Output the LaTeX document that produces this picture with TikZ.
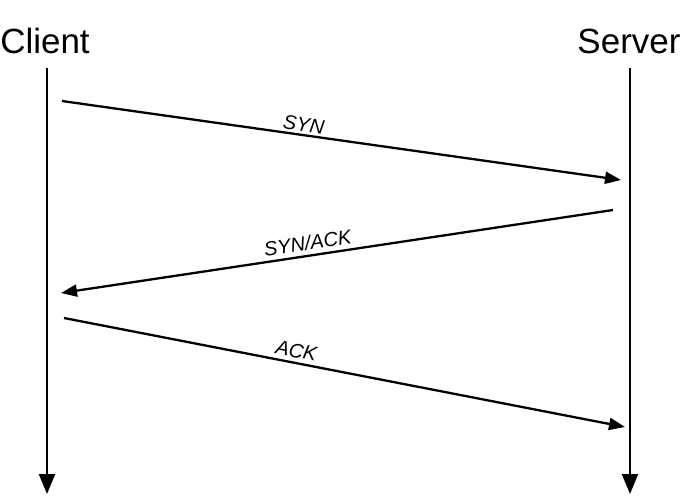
\documentclass[tikz,border=0pt]{standalone}
\usepackage{fontspec}
\setmainfont{Liberation Sans}
\usetikzlibrary{arrows.meta}

\begin{document}
\begin{tikzpicture}[x=1pt,y=-1pt,
        lifeline/.style={line width=2.3pt,-{Triangle[length=20pt,width=16pt]}},
        msg/.style={line width=2.3pt,-{Triangle[length=16pt,width=12pt]}},
        party/.style={font=\fontsize{35}{40}\selectfont,anchor=base,inner sep=0pt},
        lbl/.style={font=\fontsize{20}{22}\selectfont\itshape,sloped,above,inner sep=2pt}]

    \useasboundingbox (0,0) rectangle (682,501);

    \node[party] (client) at (45,53) {Client};
    \node[party] (server) at (629,53) {Server};

    \coordinate (c top) at (47,68);
    \coordinate (c bot) at (47,494);
    \coordinate (s top) at (630,68);
    \coordinate (s bot) at (630,494);

    \draw[lifeline] (c top) -- (c bot);
    \draw[lifeline] (s top) -- (s bot);

    % messages
    \coordinate (syn a) at (62,101);
    \coordinate (syn b) at (621,180);
    \coordinate (sa a) at (613,210);
    \coordinate (sa b) at (61,293);
    \coordinate (ack a) at (64,318);
    \coordinate (ack b) at (625,427);

    \draw[msg] (syn a) -- node[lbl,pos=0.43] {SYN} (syn b);
    \draw[msg] (sa a) -- node[lbl,pos=0.55,inner sep=4pt] {SYN/ACK} (sa b);
    \draw[msg] (ack a) -- node[lbl,pos=0.41,inner sep=4pt] {ACK} (ack b);

\end{tikzpicture}
\end{document}
